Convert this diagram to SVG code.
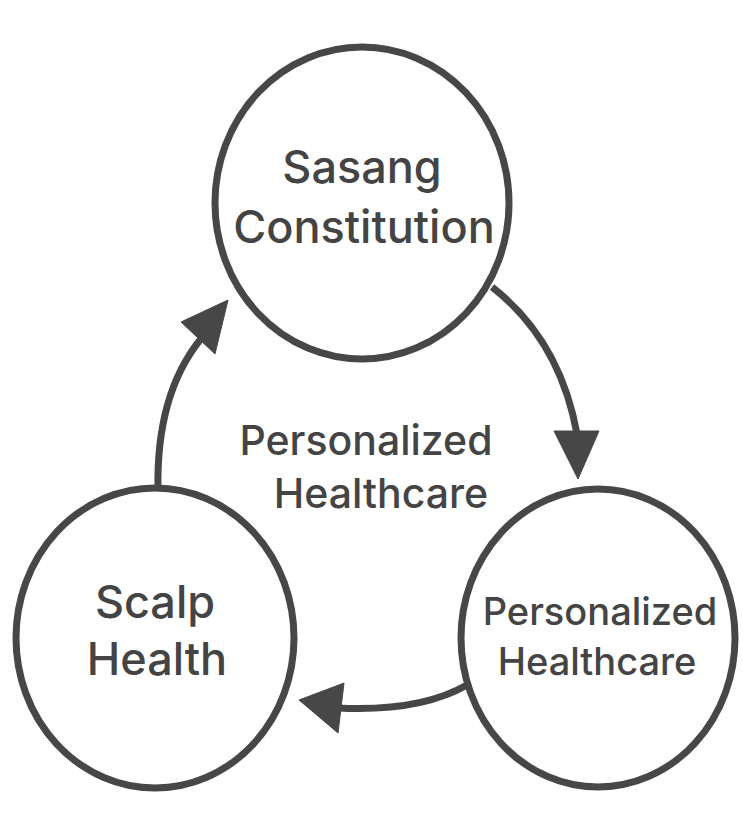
<svg xmlns="http://www.w3.org/2000/svg" width="743" height="822" viewBox="0 0 743 822">
<style>
.node{fill:#ffffff;stroke:#474747;stroke-width:7}
.lbl{font-family:Inter,"Liberation Sans",sans-serif;font-weight:500;fill:#444444;text-anchor:middle}
.conn{fill:none;stroke:#474747;stroke-width:7}
.head{fill:#474747;stroke:#474747;stroke-width:1;stroke-linejoin:round}
</style>
<rect width="743" height="822" fill="#ffffff"/>
<g id="connectors">
<path class="conn" d="M492,287 Q560,340 577,434"/>
<polygon class="head" points="554,431 599,431 578,479"/>
<path class="conn" d="M158,490 Q156,395 200,340"/>
<polygon class="head" points="181,322 215,354 228,300"/>
<path class="conn" d="M467,685 Q420,712 338,708"/>
<polygon class="head" points="344,683 338,733 299,700"/>
</g>
<g id="center-label">
<text class="lbl" x="366" y="455" font-size="41">Personalized</text>
<text class="lbl" x="381" y="508" font-size="41">Healthcare</text>
</g>
<g id="node-sasang">
<ellipse class="node" cx="362" cy="203" rx="147" ry="156"/>
<text class="lbl" x="362" y="183" font-size="45">Sasang</text>
<text class="lbl" x="364" y="243" font-size="45">Constitution</text>
</g>
<g id="node-scalp">
<ellipse class="node" cx="155" cy="638" rx="139" ry="150"/>
<text class="lbl" x="155" y="618" font-size="45">Scalp</text>
<text class="lbl" x="157" y="675" font-size="45">Health</text>
</g>
<g id="node-personalized">
<ellipse class="node" cx="598" cy="638" rx="137" ry="149"/>
<text class="lbl" x="600" y="625" font-size="38">Personalized</text>
<text class="lbl" x="597" y="675" font-size="38">Healthcare</text>
</g>
</svg>
